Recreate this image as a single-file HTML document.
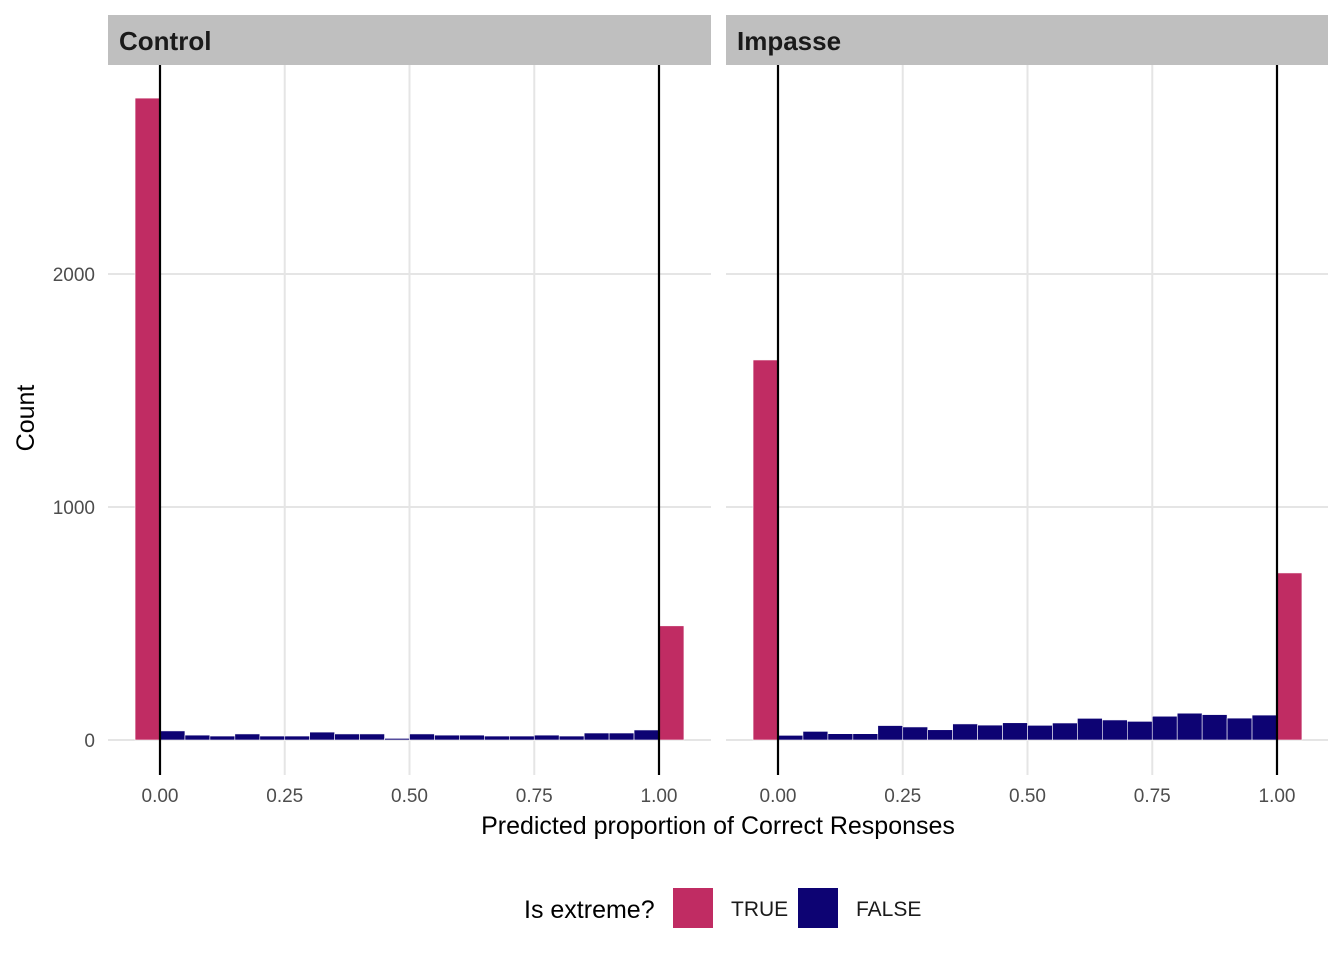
<!DOCTYPE html>
<html><head><meta charset="utf-8"><style>
body{margin:0;background:#fff;font-family:"Liberation Sans",sans-serif}
svg text{font-family:"Liberation Sans",sans-serif}
</style></head><body>
<svg id="c" width="1344" height="960"></svg>
<script>
const panels=["Control","Impasse"];
const binStarts=[-0.05,0,0.05,0.1,0.15,0.2,0.25,0.3,0.35,0.4,0.45,0.5,0.55,0.6,0.65,0.7,0.75,0.8,0.85,0.9,0.95,1.0];
const controlCounts=[2755,39,21,17,26,17,17,34,26,26,7,26,21,21,17,17,21,17,30,30,43,490];
const impasseCounts=[1631,20,37,27,27,62,56,44,69,64,74,63,73,93,86,80,102,115,109,94,107,717];
const extremeFlags=[true,false,false,false,false,false,false,false,false,false,false,false,false,false,false,false,false,false,false,false,false,true];
const xTicks=[0,0.25,0.5,0.75,1.0];
const xTickLabels=["0.00","0.25","0.50","0.75","1.00"];
const yTicks=[0,1000,2000];
const NS="http://www.w3.org/2000/svg";
const svg=document.getElementById("c");
function mk(t,a,p){const e=document.createElementNS(NS,t);for(const k in a)e.setAttribute(k,a[k]);(p||svg).appendChild(e);return e;}
const y=v=>740-v*0.233;
const panelX=[[108,711,160],[726,1328,778]];
const data=[controlCounts,impasseCounts];
panels.forEach((name,pi)=>{
  const [x0,x1,z]=panelX[pi];
  const x=v=>z+v*499;
  const g=mk("g",{});
  
  
  yTicks.forEach(t=>mk("line",{x1:x0,x2:x1,y1:y(t),y2:y(t),stroke:"#e5e5e5","stroke-width":2},g));
  xTicks.forEach(t=>mk("line",{x1:x(t),x2:x(t),y1:65,y2:775,stroke:"#e5e5e5","stroke-width":2},g));
  const strip=mk("rect",{x:x0,y:15,width:x1-x0,height:50,fill:"#bfbfbf"},g);
  
  
  const st=mk("text",{x:x0+11,y:50,"font-size":26,"font-weight":"bold",fill:"#1a1a1a"},g);st.textContent=name;
  
  
  data[pi].forEach((c,i)=>{
    const r=mk("rect",{x:x(binStarts[i]),y:y(c),width:499*0.05,height:740-y(c),fill:extremeFlags[i]?"#c02c63":"#0d0373",stroke:"#fff","stroke-width":0.6},g);
    
    
  });
  [0,1].forEach(v=>mk("line",{x1:x(v),x2:x(v),y1:65,y2:775,stroke:"#000","stroke-width":2.2},g));
  xTicks.forEach((t,i)=>{const tx=mk("text",{x:x(t),y:802,"font-size":19,fill:"#4d4d4d","text-anchor":"middle"},g);tx.textContent=xTickLabels[i];
    
    });
  if(pi===0)yTicks.forEach(t=>{const tx=mk("text",{x:95,y:y(t)+7,"font-size":19,fill:"#4d4d4d","text-anchor":"end"});tx.textContent=t;
    
    });
});
let t=mk("text",{x:718,y:834,"font-size":25,"text-anchor":"middle",fill:"#000"});t.textContent="Predicted proportion of Correct Responses";

t=mk("text",{x:0,y:0,"font-size":25,"text-anchor":"middle",fill:"#000",transform:"translate(34,418) rotate(-90)"});t.textContent="Count";

t=mk("text",{x:524,y:918,"font-size":25,fill:"#000"});t.textContent="Is extreme?";

[["TRUE","#c02c63",673,731],["FALSE","#0d0373",798,856]].forEach(([lab,col,rx,tx])=>{
  const r=mk("rect",{x:rx,y:888,width:40,height:40,fill:col});
  
  const l=mk("text",{x:tx,y:916,"font-size":21,fill:"#1a1a1a"});l.textContent=lab;
  
});
</script>
</body></html>
